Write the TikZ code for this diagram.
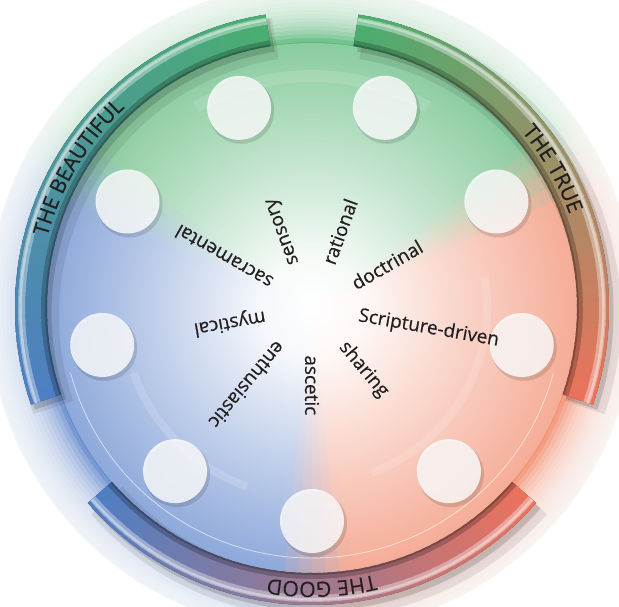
\documentclass[tikz,border=0pt]{standalone}
\usepackage{fontspec}
\newfontfamily\wheelfont[FakeBold=0.5]{Open Sans}
\usetikzlibrary{decorations.text,fadings}

\definecolor{discgreen}{RGB}{92,184,122}
\definecolor{discblue}{RGB}{96,134,204}
\definecolor{discred}{RGB}{242,140,110}
\definecolor{ringgreen}{RGB}{74,174,112}
\definecolor{ringblue}{RGB}{78,126,196}
\definecolor{ringred}{RGB}{236,114,92}
\definecolor{labeltext}{RGB}{35,31,32}

% white glow in the middle of the disc
\pgfdeclareradialshading{glowshade}{\pgfpointorigin}{color(0bp)=(pgftransparent!0); color(5bp)=(pgftransparent!6); color(15bp)=(pgftransparent!40); color(27bp)=(pgftransparent!78); color(38bp)=(pgftransparent!100); color(50bp)=(pgftransparent!100)}
\pgfdeclarefading{centreglow}{\pgfuseshading{glowshade}}

\tikzset{every picture/.style={line width=0.75pt}}
\tikzset{
  spot/.style={circle, minimum size=64, fill=white, fill opacity=.8, inner sep=0},
  spotshadow/.style={circle, minimum size=66, fill=black, fill opacity=.12, inner sep=0},
  ray/.style={anchor=west, inner sep=0, text=labeltext, font=\wheelfont\fontsize{19}{19}\selectfont},
  arctext/.style={decorate, decoration={text along path, text align=center, text color=labeltext, text={|\wheelfont\fontsize{21}{21}\selectfont|#1}}}
}

% one layer of a ring tube: start, end, colour at start, colour at end, radius, width, draw colour
\newcommand{\ringlayer}[7]{%
  \foreach \i in {0,...,49}{
    \pgfmathsetmacro\segA{#1+(#2-#1)*\i/50}
    \pgfmathsetmacro\segB{#1+(#2-#1)*min(\i+1.4,50)/50}
    \pgfmathtruncatemacro\segP{100-2*\i-1}
    \colorlet{segcol}{#3!\segP!#4}
    \draw[#7, line width=#6] (\segA:#5) arc[start angle=\segA, end angle=\segB, radius=#5];
  }}
\newcommand{\ringarc}[4]{%
  \draw[black, opacity=.08, line width=42] ([shift={(7,-8)}]#1:281) arc[start angle=#1, end angle=#2, radius=281];
  \draw[black, opacity=.14, line width=33] ([shift={(4,-5)}]#1:281) arc[start angle=#1, end angle=#2, radius=281];
  \ringlayer{#1}{#2}{#3}{#4}{281}{32}{segcol!60!black}
  \ringlayer{#1}{#2}{#3}{#4}{282}{30}{segcol!78!black}
  \ringlayer{#1}{#2}{#3}{#4}{284}{26}{segcol}
  \ringlayer{#1}{#2}{#3}{#4}{290.5}{7}{segcol!65!white}
  \ringlayer{#1}{#2}{#3}{#4}{291.5}{2.5}{segcol!40!white}}

\begin{document}
\begin{tikzpicture}[x=1pt,y=1pt]
\fill[white] (-312,-299) rectangle (307,308);
\useasboundingbox (-312,-299) rectangle (307,308);

%Shape: Disc, coloured wedges
\foreach \a in {0,3,...,357}{
  \pgfmathsetmacro\mid{\a+1.5}
  \pgfmathsetmacro\wg{max(0,min(1,(68-abs(mod(\mid-90+540,360)-180))/16))}
  \pgfmathsetmacro\wb{max(0,min(1,(68-abs(mod(\mid-210+540,360)-180))/16))}
  \pgfmathsetmacro\wr{1-\wg-\wb}
  \pgfmathtruncatemacro\cr{92*\wg+96*\wb+242*\wr}
  \pgfmathtruncatemacro\cg{184*\wg+134*\wb+140*\wr}
  \pgfmathtruncatemacro\cb{122*\wg+204*\wb+110*\wr}
  \definecolor{wedgecol}{RGB}{\cr,\cg,\cb}
  \fill[wedgecol] (0,0) -- (\a:324) arc[start angle=\a, end angle=\a+3.4, radius=324] -- cycle;
}
\fill[white, path fading=centreglow] (0,0) circle (265);
% soft outer rim
\foreach \r in {266,270,...,322}
  \fill[white, opacity=.16, even odd rule] (0,0) circle (330) (0,0) circle (\r);

%Swirl highlights
\draw[white, opacity=.6, line width=.8] (195:250) arc[start angle=195, end angle=345, radius=250];
\draw[white, opacity=.14, line width=8] (10:175) arc[start angle=10, end angle=-70, radius=175];
\draw[white, opacity=.14, line width=8] (200:190) arc[start angle=200, end angle=250, radius=190];
\draw[white, opacity=.12, line width=12] (60:232) arc[start angle=60, end angle=120, radius=232];

%Shape: Outer ring
\ringarc{81}{-19}{ringgreen}{ringred}
\ringarc{-41}{-139}{ringred}{ringblue}
\ringarc{199}{99}{ringblue}{ringgreen}

% Ring labels
\path[arctext={THE TRUE}] (58:274) arc[start angle=58, end angle=2, radius=274];
\path[arctext={THE GOOD}] (-58:274) arc[start angle=-58, end angle=-118, radius=274];
\path[arctext={THE BEAUTIFUL}] (192:274) arc[start angle=192, end angle=106, radius=274];

%Shape: Circles
\foreach \ang [count=\k] in {-90,-50,...,230}{
  \node[spotshadow] at ([shift={(2,-3)}]\ang:213) {};
  \node[spot] (spot\k) at (\ang:213) {};
}

% Text Node
\foreach \ang/\word/\nm in {-90/ascetic/asc, -50/sharing/sha, -10/Scripture-driven/scr, 30/doctrinal/doc, 70/rational/rat, 110/sensory/sen, 150/sacramental/sac, 190/mystical/mys, 230/enthusiastic/ent}
  \node[ray, rotate=\ang] (\nm) at (\ang:47) {\word};

\end{tikzpicture}
\end{document}
